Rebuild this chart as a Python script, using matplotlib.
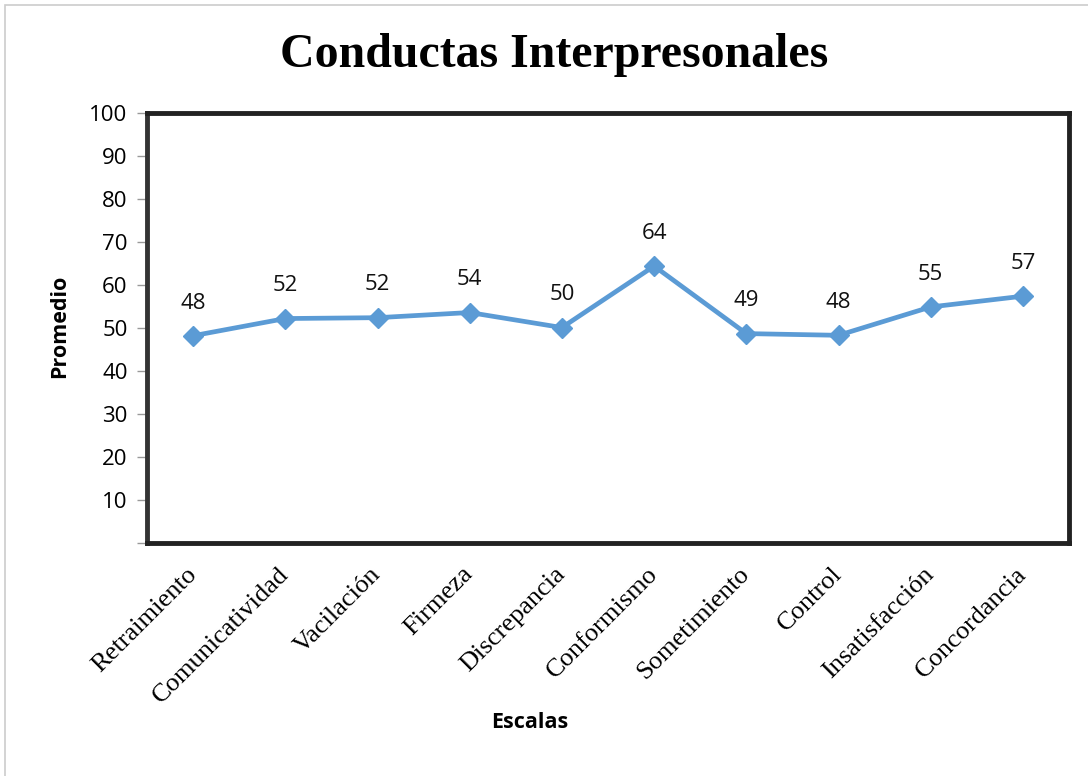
import matplotlib
matplotlib.use('Agg')
import matplotlib.pyplot as plt
from matplotlib.patches import Rectangle

# Data
escalas = ['Retraimiento', 'Comunicatividad', 'Vacilación', 'Firmeza', 'Discrepancia',
           'Conformismo', 'Sometimiento', 'Control', 'Insatisfacción', 'Concordancia']
promedio = [48.2, 52.2, 52.4, 53.6, 50.1, 64.4, 48.7, 48.3, 54.9, 57.4]
y_ticks = [0, 10, 20, 30, 40, 50, 60, 70, 80, 90, 100]

LINE_COLOR = '#5B9BD5'
SANS = ['Open Sans', 'DejaVu Sans']
SERIF = ['Liberation Serif', 'DejaVu Serif']

fig = plt.figure(figsize=(10.88, 7.76), dpi=100)
ax = fig.add_axes([147 / 1088, 1 - 543 / 776, (1069 - 147) / 1088, (543 - 113) / 776])

x = list(range(len(escalas)))
ax.plot(x, promedio, color=LINE_COLOR, linewidth=3.4, marker='D', markersize=10,
        markerfacecolor=LINE_COLOR, markeredgecolor=LINE_COLOR, zorder=3)

for xi, v in zip(x, promedio):
    ax.annotate(f'{v:.0f}', (xi, v), xytext=(0, 16), textcoords='offset points',
                ha='center', va='bottom', fontsize=16, family=SANS, color='#111111')

ax.set_xlim(-0.5, len(escalas) - 0.5)
ax.set_ylim(0, 100)
ax.set_yticks(y_ticks)
ax.set_yticklabels(['' if t == 0 else str(t) for t in y_ticks], family=SANS, fontsize=16)
ax.tick_params(axis='y', direction='out', length=7, width=1, color='#999999', pad=7)

ax.set_xticks(x)
ax.set_xticklabels(escalas, rotation=45, ha='right', va='center', rotation_mode='anchor',
                   family=SERIF, fontsize=19)
ax.tick_params(axis='x', length=0, pad=20)

for side in ['top', 'right', 'bottom']:
    ax.spines[side].set_linewidth(3.5)
    ax.spines[side].set_color('#222222')
ax.spines['left'].set_linewidth(3.5)
ax.spines['left'].set_color('#333333')

fig.text(554 / 1088, 1 - 55 / 776, 'Conductas Interpresonales', ha='center', va='center',
         fontsize=34.5, fontweight='bold', family=SERIF)
fig.text(60 / 1088, 1 - 326 / 776, 'Promedio', rotation=90, ha='center', va='center',
         fontsize=15.5, fontweight='bold', family=SANS)
fig.text(530 / 1088, 1 - 723 / 776, 'Escalas', ha='center', va='center',
         fontsize=15.5, fontweight='bold', family=SANS)

# light outer frame of the chart object
fig.patches.append(Rectangle((5 / 1088, -0.05), 1.1, 1 - 5 / 776 + 0.05,
                             transform=fig.transFigure, fill=False,
                             edgecolor='#cccccc', linewidth=1.2))

fig.savefig('out.png', dpi=100)
